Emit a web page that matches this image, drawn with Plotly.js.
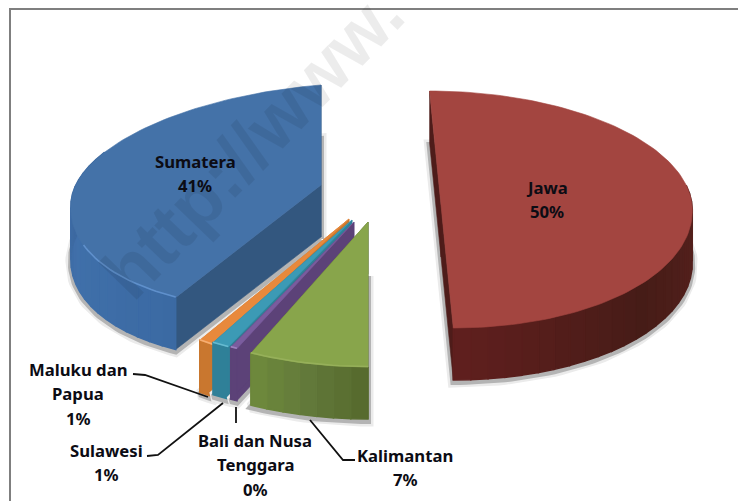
<!DOCTYPE html>
<html>
<head>
<meta charset="utf-8">
<script src="https://cdn.plot.ly/plotly-3.0.1.min.js"></script>
<style>html,body{margin:0;padding:0;background:#fff}#chart{width:738px;height:501px}</style>
</head>
<body>
<div id="chart"></div>
<script>
// ---- data (clockwise from 12 o'clock) ----
var regions = ["Jawa", "Kalimantan", "Bali dan Nusa\nTenggara", "Sulawesi", "Maluku dan\nPapua", "Sumatera"];
var shares  = [50, 7, 0.4, 1, 1, 40.6];

// ---- styling and view geometry of the tilted, exploded pie ----
var topColors  = ["#A34540", "#88A54B", "#7A5C9E", "#3C9AB5", "#E8893C", "#4472A8"];
var rimColors  = [null, "#96B05A", "#9C80BE", "#66BAD0", "#F5AE73", "#5F90CC"];
var rimEnd     = [0, 206, 207, 211, 214, 250];
var wallStops  = [["#5C2320","#461C17","#601F1E"], ["#55692C","#62793A","#6F8A3C"], ["#5C4278","#5C4278","#5C4278"],
                  ["#2F8098","#2F8098","#2F8098"], ["#C9772F","#C9772F","#C9772F"], ["#3B6AA3","#4070AA","#39649A"]];
var cutColors  = ["#4E1C1A", "#55692C", "#5C4278", "#2F8098", "#C9772F", "#33577F"];
var apexX   = [441, 368, 354, 352, 349, 321];
var apexY   = [205, 222, 222, 220, 219, 185];
var radiusX = [251, 275, 275, 276, 268, 250];
var radBack = [114, 130, 130, 130, 130, 100];
var radFront= [123, 145, 140, 142, 146, 122];
var shearBack  = [0.10, 0, 0, 0, 0, 0];
var shearFront = [0.10, 0, 0, 0, 0, -0.06];
var tilt    = [0, 0, 0, 0, 0, -0.08];
var depth   = [52, 52, 52, 52, 52, 52];
var drawOrder = [5, 4, 3, 2, 1, 0];

// label anchor centres and leader paths
var labelX = [547, 405, 255, 106, 78, 195];
var labelY = [187, 455, 440, 450, 369, 161];
var lineGap = 24.5;
var leaderX = [null, [310,343,355], [236,236], [147,158,223], [133,145,208], null];
var leaderY = [null, [420,460,460], [407,423], [456,455,403], [374,375,397], null];

var RAD = Math.PI / 180;
function pt(i, deg, z) {
  var s = Math.sin(deg * RAD), c = Math.cos(deg * RAD);
  var dx = radiusX[i] * s;
  var dy = c > 0 ? -radBack[i] * c : -radFront[i] * c;
  var sh = c > 0 ? shearBack[i] : shearFront[i];
  return [apexX[i] + dx + sh * dy, apexY[i] + dy + tilt[i] * dx + z];
}
function hex(c) { return [1,3,5].map(function (k) { return parseInt(c.substr(k,2),16); }); }
function mix(a, b, t) {
  var A = hex(a), B = hex(b);
  return "rgb(" + A.map(function (v,k) { return Math.round(v + (B[k]-v)*t); }).join(",") + ")";
}
function stop3(st, t) { return t < 0.5 ? mix(st[0], st[1], t*2) : mix(st[1], st[2], (t-0.5)*2); }
function poly(pts, color, lw, lineColor) {
  return { type:"scatter", mode:"lines", x:pts.map(function(p){return p[0];}), y:pts.map(function(p){return p[1];}),
    fill:"toself", fillcolor:color, line:{color:lineColor||color, width:lw===undefined?0.6:lw}, hoverinfo:"skip", showlegend:false };
}
function arc(i, a0, a1, z) {
  var out = [], n = Math.max(2, Math.ceil(Math.abs(a1-a0)/1.5));
  for (var k = 0; k <= n; k++) out.push(pt(i, a0 + (a1-a0)*k/n, z));
  return out;
}

// angular spans from the shares
var total = shares.reduce(function(a,b){return a+b;},0), startDeg = [], endDeg = [], run = 0;
shares.forEach(function(v,i){ startDeg[i] = run/total*360; run += v; endDeg[i] = run/total*360; });

var traces = [];
drawOrder.forEach(function (i) {
  var a0 = startDeg[i], a1 = endDeg[i], ap = [apexX[i], apexY[i]], d = depth[i];
  var topPoly = [ap].concat(arc(i,a0,a1,0)).concat([ap]);
  // soft drop shadow of the base
  var base = topPoly.map(function(p){ return [p[0], p[1]+d+2]; });
  traces.push(poly(base, "#E6E6E6", 11, "#EBEBEB"));
  traces.push(poly(base, "#A8A8A8", 6, "#B4B4B4"));
  // cut faces
  [a0,a1].forEach(function (ang) {
    var e = pt(i,ang,0);
    traces.push(poly([ap,e,[e[0],e[1]+d],[ap[0],ap[1]+d],ap], cutColors[i]));
  });
  // outer wall, in shaded bands across the front-facing part
  var f0 = a0 < 90 ? 80 : a0, f1 = Math.min(a1, 300), bands = Math.max(1, Math.ceil((f1-f0)/4));
  for (var b = 0; b < bands; b++) {
    var u0 = f0 + (f1-f0)*b/bands, u1 = f0 + (f1-f0)*(b+1)/bands;
    var up = arc(i,u0,u1,0), lo = arc(i,u1,u0,d);
    traces.push(poly(up.concat(lo).concat([up[0]]), stop3(wallStops[i], (b+0.5)/bands), 1.5));
  }
  // top face
  traces.push(poly(topPoly, topColors[i]));
  // bevel highlight on the front rim
  if (rimColors[i]) {
    var rim = arc(i, a0, Math.min(a1, rimEnd[i]), -0.5);
    traces.push({type:"scatter", mode:"lines", x:rim.map(function(p){return p[0];}), y:rim.map(function(p){return p[1];}),
      line:{color:rimColors[i], width:1.6}, hoverinfo:"skip", showlegend:false});
  }
});

// leader lines
leaderX.forEach(function (lx, i) {
  if (lx) traces.push({type:"scatter", mode:"lines", x:lx, y:leaderY[i], line:{color:"#111111", width:1.8}, hoverinfo:"skip", showlegend:false});
});

// labels, one annotation per line so the line pitch follows the reference
var annotations = [];
regions.forEach(function (name, i) {
  var lines = name.split("\n").concat([Math.round(shares[i]) + "%"]);
  lines.forEach(function (t, k) {
    annotations.push({ x:labelX[i], y:labelY[i] + k*lineGap, xref:"x", yref:"y", text:"<b>"+t+"</b>", showarrow:false,
      borderpad:0, xanchor:"center", yanchor:"middle", font:{family:"Noto Sans", size:16.7, color:"#0c0c14"} });
  });
});
annotations.push({ x:252, y:143, xref:"x", yref:"y", text:"<b>http://www.</b>", showarrow:false, textangle:-46,
  xanchor:"center", yanchor:"middle", font:{family:"Liberation Sans", size:74, color:"rgba(0,0,0,0.075)"} });

var layout = {
  width:738, height:501, margin:{l:0,r:0,t:0,b:0}, paper_bgcolor:"#ffffff", plot_bgcolor:"#ffffff", showlegend:false,
  xaxis:{range:[0,738], visible:false, fixedrange:true},
  yaxis:{range:[501,0], visible:false, fixedrange:true},
  annotations:annotations,
  shapes:[
    {type:"line", xref:"x", yref:"y", x0:9, x1:738, y0:9, y1:9, line:{color:"#7F7F7F", width:2}},
    {type:"line", xref:"x", yref:"y", x0:10, x1:10, y0:9, y1:501, line:{color:"#7F7F7F", width:2}}
  ]
};
Plotly.newPlot("chart", traces, layout, {displayModeBar:false, staticPlot:true});
</script>
</body>
</html>
